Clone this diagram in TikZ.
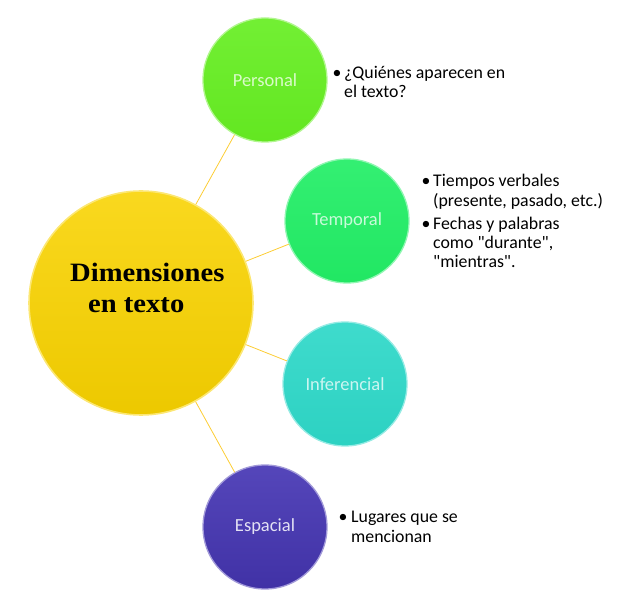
\documentclass[tikz,border=0pt]{standalone}
\usepackage{fontspec}
\setmainfont{Carlito}
\newfontfamily\qfont{Carlito}
\newfontfamily\titlefont[FakeStretch=1.08]{Liberation Serif}
\newcommand\sq{{\qfont"}}
\begin{document}
\begin{tikzpicture}[x=1pt,y=1pt,
  bubble/.style={circle, inner sep=0pt, minimum size=124pt, line width=1.3pt,
     font=\fontsize{18.5}{20}\selectfont},
  conn/.style={draw=yellow!55!orange!80!white, line width=0.8pt},
  bul/.style={anchor=base west, inner sep=0pt, font=\fontsize{17.8}{20}\selectfont},
  dot/.style={anchor=base, inner sep=0pt, font=\fontsize{17.8}{20}\selectfont},
  ttl/.style={anchor=base west, inner sep=0pt, font=\titlefont\bfseries\fontsize{26.5}{30}\selectfont}]
\useasboundingbox (0,0) rectangle (631,613);
\definecolor{cyel}{HTML}{F9D300}
\definecolor{cper}{HTML}{66EE22}
\definecolor{ctem}{HTML}{22EE66}
\definecolor{cinf}{HTML}{2ED8C8}
\definecolor{cesp}{HTML}{4636B4}

\node[circle, inner sep=0pt, minimum size=224pt, top color=cyel!88!white, bottom color=cyel!95!black, draw=cyel!55!white, line width=1.6pt] (dim) at (141,310) {};
\node[bubble, top color=cper!92!white, bottom color=cper!97!black, draw=cper!50!white, text=cper!25!white] (per) at (265,533) {Personal};
\node[bubble, top color=ctem!92!white, bottom color=ctem!97!black, draw=ctem!50!white, text=ctem!25!white] (tem) at (347,392) {Temporal};
\node[bubble, top color=cinf!92!white, bottom color=cinf!97!black, draw=cinf!50!white, text=cinf!25!white] (inf) at (345,229) {Inferencial};
\node[bubble, top color=cesp!92!white, bottom color=cesp!92!black, draw=cesp!50!white, text=cesp!15!white] (esp) at (265,86) {Espacial};

\draw[conn] (dim) -- (per);
\draw[conn] (dim) -- (tem);
\draw[conn] (dim) -- (inf);
\draw[conn] (dim) -- (esp);

\node[ttl] (t1) at (70,331) {Dimensiones};
\node[ttl] (t2) at (88,300) {en texto};

% Personal
\node[dot] (pb1) at (337,534) {•};
\node[bul] (p1) at (344,534) {¿Quiénes aparecen en};
\node[bul] (p2) at (344,515) {el texto?};
% Temporal
\node[dot] (tb1) at (426,426) {•};
\node[bul] (tt1) at (433,426) {Tiempos verbales};
\node[bul] (tt2) at (433,406) {(presente, pasado, etc.)};
\node[dot] (tb2) at (426,383) {•};
\node[bul] (tt3) at (433,383) {Fechas y palabras};
\node[bul] (tt4) at (433,364) {como \sq durante\sq,};
\node[bul] (tt5) at (433,345) {\sq mientras\sq.};
% Espacial
\node[dot] (eb1) at (343,91) {•};
\node[bul] (e1) at (351,91) {Lugares que se};
\node[bul] (e2) at (351,71) {mencionan};
\end{tikzpicture}
\end{document}
